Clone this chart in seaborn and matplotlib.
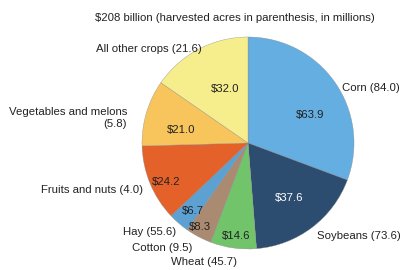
import numpy as np
import matplotlib
matplotlib.use("Agg")
import matplotlib.pyplot as plt
import seaborn as sns

crops = ['Corn', 'Soybeans', 'Wheat', 'Cotton', 'Hay',
         'Fruits and nuts', 'Vegetables and melons', 'All other crops']
value_billion = [63.9, 37.6, 14.6, 8.3, 6.7, 24.2, 21.0, 32.0]
acres_million = [84.0, 73.6, 45.7, 9.5, 55.6, 4.0, 5.8, 21.6]
colors = ['#65aee2', '#2c4c70', '#72c46a', '#ab8a72', '#5ca1d2',
          '#e4612a', '#f8c55c', '#f6ed8c']

# label placement (pie data coords), tuned by eye
value_pos = [(0.585, 0.264), (0.387, -0.519), (-0.113, -0.877), (-0.453, -0.792),
             (-0.519, -0.642), (-0.774, -0.368), (-0.632, 0.123), (-0.217, 0.509)]
name_pos = [(1.16, 0.519), (1.047, -0.877), (-0.415, -1.123), (-0.811, -0.99),
            (-0.925, -0.84), (-1.472, -0.443), (-1.142, 0.236), (-0.934, 0.887)]

sns.set_theme(style='white')
plt.rcParams['font.family'] = ['Liberation Sans', 'DejaVu Sans']

fs = 8.2
fig = plt.figure(figsize=(4.06, 2.70), dpi=100)
ax = fig.add_axes([0.3498, 0.0778, 0.5222, 0.7852])
ax.pie(value_billion, colors=colors, startangle=90, counterclock=False,
       radius=1, wedgeprops=dict(edgecolor='#8a8a8a', linewidth=0.25))
ax.set_xlim(-1, 1)
ax.set_ylim(-1, 1)
ax.set_aspect('equal')
ax.axis('off')

for i, v in enumerate(value_billion):
    c = 'white' if crops[i] == 'Soybeans' else '#222222'
    ax.text(*value_pos[i], f'${v:.1f}', ha='center', va='center',
            fontsize=fs, color=c)

for i, name in enumerate(crops):
    if name == 'Vegetables and melons':
        txt, ha = f'{name}\n({acres_million[i]:.1f})', 'right'
    else:
        txt, ha = f'{name} ({acres_million[i]:.1f})', 'center'
    ax.text(*name_pos[i], txt, ha=ha, va='center', fontsize=fs,
            color='#222222', multialignment='right', linespacing=1.2,
            clip_on=False)

fig.text(235 / 406, 1 - 18 / 270,
         '$208 billion (harvested acres in parenthesis, in millions)',
         ha='center', va='center', fontsize=fs, color='#222222')

fig.savefig('out.png', dpi=100)
